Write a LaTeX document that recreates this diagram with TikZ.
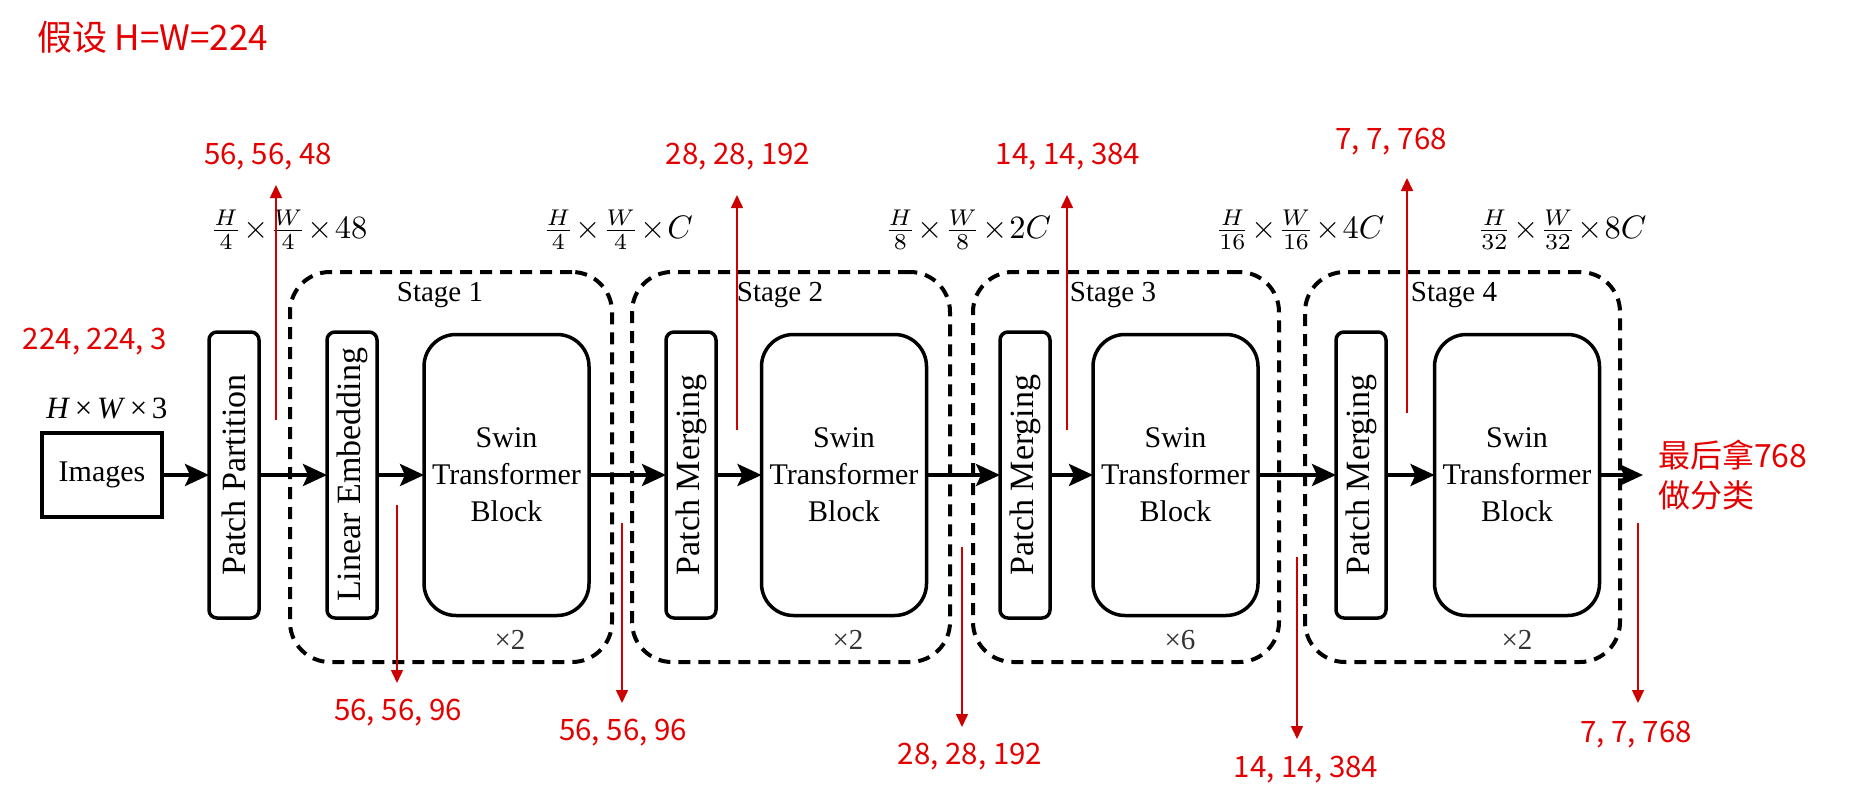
\documentclass[tikz,border=0pt]{standalone}
\usepackage{fontspec}
\setmainfont{Liberation Serif}
\newfontfamily\cjk{Noto Sans CJK SC}
\usetikzlibrary{arrows.meta}
\definecolor{lblred}{RGB}{228,0,0}
\definecolor{linered}{RGB}{205,0,0}
\newcommand{\tm}{\mkern1mu{\times}\mkern1mu}
\begin{document}
\begin{tikzpicture}[x=1pt,y=-1pt,
  every node/.style={inner sep=0pt, outer sep=0pt},
  blk/.style={draw, line width=3.5pt, align=center, font=\fontsize{30}{37}\selectfont},
  thinbox/.style={blk, minimum width=286pt, minimum height=50pt, rounded corners=8pt, rotate=90, font=\fontsize{34}{40}\selectfont},
  swin/.style={blk, minimum width=165pt, minimum height=281pt, rounded corners=32pt},
  stagebox/.style={draw, line width=4pt, dash pattern=on 12pt off 8pt, rounded corners=40pt},
  flow/.style={line width=4pt, -{Stealth[length=24pt,width=22pt,inset=5pt]}},
  redarr/.style={draw=linered, line width=1.5pt, -{Triangle[length=13pt,width=12pt]}},
  redlbl/.style={text=lblred, font=\cjk\fontsize{29.5}{34}\selectfont},
  dims/.style={transform shape, scale=3.25, font=\normalsize},
  stagelbl/.style={font=\fontsize{29}{34}\selectfont},
  rep/.style={text=black!80, font=\fontsize{29}{34}\selectfont}
]
\useasboundingbox (0,0) rectangle (1853,808);

% stage boxes
\node[stagebox, minimum width=322pt, minimum height=390pt] (st1) at (451,467) {};
\node[stagebox, minimum width=318pt, minimum height=390pt] (st2) at (791,467) {};
\node[stagebox, minimum width=306pt, minimum height=390pt] (st3) at (1126,467) {};
\node[stagebox, minimum width=315pt, minimum height=390pt] (st4) at (1462.5,467) {};

\node[stagelbl] (s1) at (440,295) {Stage 1};
\node[stagelbl] (s2) at (780,295) {Stage 2};
\node[stagelbl] (s3) at (1113,295) {Stage 3};
\node[stagelbl] (s4) at (1454,295) {Stage 4};

\node[rep] (r1) at (510,640) {×2};
\node[rep] (r2) at (848,640) {×2};
\node[rep] (r3) at (1180,640) {×6};
\node[rep] (r4) at (1517,640) {×2};

% blocks
\node[blk, minimum width=120pt, minimum height=84pt] (img) at (102,475) {Images};
\node[font=\fontsize{31}{36}\selectfont] (hw) at (107,408) {\textit{H}\kern0.15em×\kern0.15em\textit{W}\kern0.15em×\kern0.15em3};
\node[thinbox] (pp) at (234,475) {Patch Partition};
\node[thinbox] (le) at (352,475) {Linear Embedding};
\node[swin] (sw1) at (506.5,475) {Swin\\Transformer\\Block};
\node[thinbox] (pm2) at (691,475) {Patch Merging};
\node[swin] (sw2) at (844,475) {Swin\\Transformer\\Block};
\node[thinbox] (pm3) at (1025,475) {Patch Merging};
\node[swin] (sw3) at (1175.5,475) {Swin\\Transformer\\Block};
\node[thinbox] (pm4) at (1361,475) {Patch Merging};
\node[swin] (sw4) at (1517,475) {Swin\\Transformer\\Block};
\coordinate (out) at (1643,475);

\draw[flow] (img.east) -- (pp.north);
\draw[flow] (pp.south) -- (le.north);
\draw[flow] (le.south) -- (sw1.west);
\draw[flow] (sw1.east) -- (pm2.north);
\draw[flow] (pm2.south) -- (sw2.west);
\draw[flow] (sw2.east) -- (pm3.north);
\draw[flow] (pm3.south) -- (sw3.west);
\draw[flow] (sw3.east) -- (pm4.north);
\draw[flow] (pm4.south) -- (sw4.west);
\draw[flow] (sw4.east) -- (out);

% dimension labels
\node[dims] (d1) at (289,230) {$\frac{H}{4}\tm\frac{W}{4}\tm48$};
\node[dims] (d2) at (618,230) {$\frac{H}{4}\tm\frac{W}{4}\tm C$};
\node[dims] (d3) at (968,230) {$\frac{H}{8}\tm\frac{W}{8}\tm 2C$};
\node[dims] (d4) at (1300,230) {$\frac{H}{16}\tm\frac{W}{16}\tm 4C$};
\node[dims] (d5) at (1562,230) {$\frac{H}{32}\tm\frac{W}{32}\tm 8C$};

% red annotations
\node[redlbl, font=\cjk\fontsize{35}{40}\selectfont, anchor=west] (title) at (37,37) {假设 H=W=224};
\node[redlbl] (in) at (95,342) {224, 224, 3};
\node[redlbl, font=\cjk\fontsize{32}{40}\selectfont, align=left, anchor=west] (fin) at (1658,475) {最后拿768\\做分类};

\node[redlbl] (ul1) at (268,157) {56, 56, 48};
\node[redlbl] (ul2) at (738,157) {28, 28, 192};
\node[redlbl] (ul3) at (1068,157) {14, 14, 384};
\node[redlbl] (ul4) at (1391,142) {7, 7, 768};

\coordinate (ua1) at (276,420); \coordinate (ub1) at (276,185);
\coordinate (ua2) at (737,430); \coordinate (ub2) at (737,195);
\coordinate (ua3) at (1067,430); \coordinate (ub3) at (1067,195);
\coordinate (ua4) at (1407,413); \coordinate (ub4) at (1407,178);
\draw[redarr] (ua1) -- (ub1);
\draw[redarr] (ua2) -- (ub2);
\draw[redarr] (ua3) -- (ub3);
\draw[redarr] (ua4) -- (ub4);

\node[redlbl] (dl1) at (398,713) {56, 56, 96};
\node[redlbl] (dl2) at (623,733) {56, 56, 96};
\node[redlbl] (dl3) at (970,757) {28, 28, 192};
\node[redlbl] (dl4) at (1306,770) {14, 14, 384};
\node[redlbl] (dl5) at (1636,735) {7, 7, 768};

\coordinate (da1) at (397,505); \coordinate (db1) at (397,683);
\coordinate (da2) at (622,523); \coordinate (db2) at (622,703);
\coordinate (da3) at (962,547); \coordinate (db3) at (962,727);
\coordinate (da4) at (1297,557); \coordinate (db4) at (1297,739);
\coordinate (da5) at (1638,523); \coordinate (db5) at (1638,703);
\draw[redarr] (da1) -- (db1);
\draw[redarr] (da2) -- (db2);
\draw[redarr] (da3) -- (db3);
\draw[redarr] (da4) -- (db4);
\draw[redarr] (da5) -- (db5);
\end{tikzpicture}
\end{document}
